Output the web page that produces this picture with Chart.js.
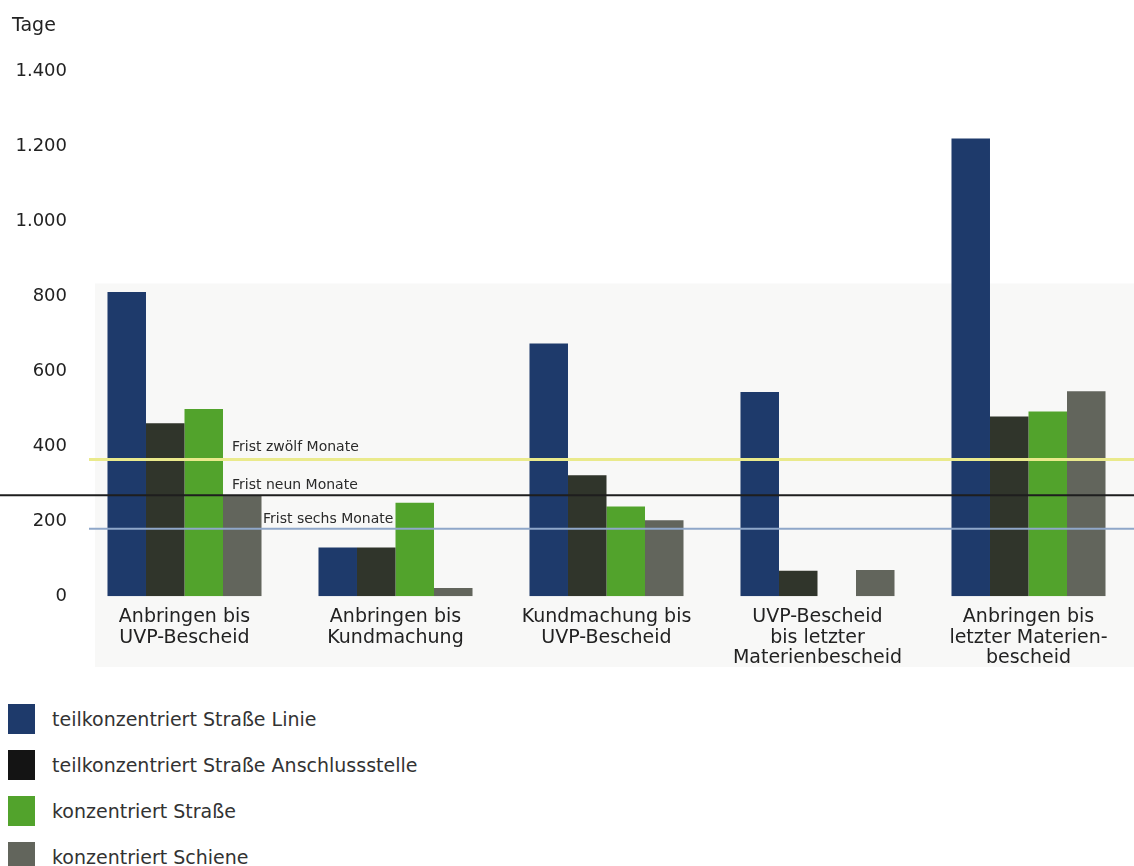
<!DOCTYPE html>
<html>
<head>
<meta charset="utf-8">
<script src="https://cdn.jsdelivr.net/npm/chart.js@4/dist/chart.umd.min.js"></script>
<style>
  body { margin: 0; background: #fff; overflow: hidden; }
  #wrap { position: relative; width: 1134px; height: 680px; }
  #legend { margin: 0; padding: 16px 0 0 8px; font-family: "DejaVu Sans", sans-serif; font-size: 19px; color: #333; }
  #legend div { display: flex; align-items: center; height: 46px; }
  #legend span.box { display: inline-block; width: 27px; height: 30px; margin-right: 17px; }
</style>
</head>
<body>
<div id="wrap"><canvas id="chart"></canvas></div>
<div id="legend"></div>
<script>
// categories (x axis, multi-line)
const categories = [
  ['Anbringen bis', 'UVP-Bescheid'],
  ['Anbringen bis', 'Kundmachung'],
  ['Kundmachung bis', 'UVP-Bescheid'],
  ['UVP-Bescheid', 'bis letzter', 'Materienbescheid'],
  ['Anbringen bis', 'letzter Materien-', 'bescheid']
];

const seriesNames = [
  'teilkonzentriert Straße Linie',
  'teilkonzentriert Straße Anschlussstelle',
  'konzentriert Straße',
  'konzentriert Schiene'
];
const seriesColors = ['#1e3a6b', '#30352b', '#52a32c', '#62655c'];
const legendColors = ['#1e3a6b', '#141414', '#52a32c', '#62655c'];

// Tage
const teilStrasseLinie = [812, 130, 675, 545, 1222];
const teilStrasseAnschluss = [462, 130, 323, 68, 480];
const konzStrasse = [500, 250, 240, 0, 493];
const konzSchiene = [268, 22, 203, 70, 547];

// Fristen (reference lines)
const fristValues = [365, 270, 180];
const fristLabels = ['Frist zwölf Monate', 'Frist neun Monate', 'Frist sechs Monate'];
const fristColors = ['#eaea8c', '#1e1e1e', '#8fa7c9'];
const fristWidths = [3, 2, 2];
const fristLabelX = [232, 232, 263];

const yTicks = [0, 200, 400, 600, 800, 1000, 1200, 1400];

function fmt(v) {
  return String(v).replace(/\B(?=(\d{3})+(?!\d))/g, '.');
}

const allSeries = [teilStrasseLinie, teilStrasseAnschluss, konzStrasse, konzSchiene];

// light panel behind the lower part of the plot (as in the scan)
const panelPlugin = {
  id: 'panel',
  beforeDraw(chart) {
    const { ctx, chartArea, scales } = chart;
    const top = scales.y.getPixelForValue(835);
    ctx.save();
    ctx.fillStyle = '#f8f8f7';
    ctx.fillRect(chartArea.left + 16, top, chart.width - chartArea.left - 16, 667 - top);
    ctx.restore();
  }
};

const fristPlugin = {
  id: 'fristen',
  afterDatasetsDraw(chart) {
    const { ctx, chartArea, scales } = chart;
    ctx.save();
    fristValues.forEach((v, i) => {
      const y = scales.y.getPixelForValue(v);
      ctx.beginPath();
      ctx.strokeStyle = fristColors[i];
      ctx.lineWidth = fristWidths[i];
      ctx.moveTo(i === 1 ? 0 : chartArea.left + 10, y);
      ctx.lineTo(chart.width, y);
      ctx.stroke();
      ctx.font = '14px "DejaVu Sans", sans-serif';
      ctx.fillStyle = '#2a2a2a';
      ctx.textBaseline = 'alphabetic';
      ctx.fillText(fristLabels[i], fristLabelX[i], y - (i === 0 ? 9 : 6));
    });
    ctx.restore();
  }
};

const chart = new Chart(document.getElementById('chart'), {
  type: 'bar',
  data: {
    labels: categories,
    datasets: allSeries.map((d, i) => ({
      label: seriesNames[i],
      data: d,
      backgroundColor: seriesColors[i],
      borderWidth: 0,
      barPercentage: 1,
      categoryPercentage: 0.73
    }))
  },
  options: {
    responsive: true,
    maintainAspectRatio: false,
    animation: false,
    layout: { padding: { top: 11, right: 0, bottom: 9, left: 12 } },
    plugins: {
      legend: { display: false },
      tooltip: { enabled: false },
      title: {
        display: true,
        text: 'Tage',
        align: 'start',
        color: '#222',
        font: { family: '"DejaVu Sans", sans-serif', size: 19, weight: 'normal' },
        padding: { top: 4, bottom: 34 }
      }
    },
    scales: {
      x: {
        grid: { display: false },
        border: { display: false },
        ticks: {
          color: '#222',
          font: { family: '"DejaVu Sans", sans-serif', size: 19, lineHeight: 1.1 },
          maxRotation: 0,
          autoSkip: false,
          padding: 2
        }
      },
      y: {
        min: 0,
        max: 1400,
        afterBuildTicks: s => { s.ticks = yTicks.map(v => ({ value: v })); },
        afterFit: s => { s.width = 67; },
        grid: { display: false, drawTicks: false },
        border: { display: false },
        ticks: {
          color: '#222',
          padding: 12,
          font: { family: '"DejaVu Sans", sans-serif', size: 18 },
          callback: v => fmt(v)
        }
      }
    }
  },
  plugins: [panelPlugin, fristPlugin]
});

// HTML legend, one row per series
const legendEl = document.getElementById('legend');
seriesNames.forEach((name, i) => {
  const row = document.createElement('div');
  const box = document.createElement('span');
  box.className = 'box';
  box.style.background = legendColors[i];
  row.appendChild(box);
  row.appendChild(document.createTextNode(name));
  legendEl.appendChild(row);
});
</script>
</body>
</html>
